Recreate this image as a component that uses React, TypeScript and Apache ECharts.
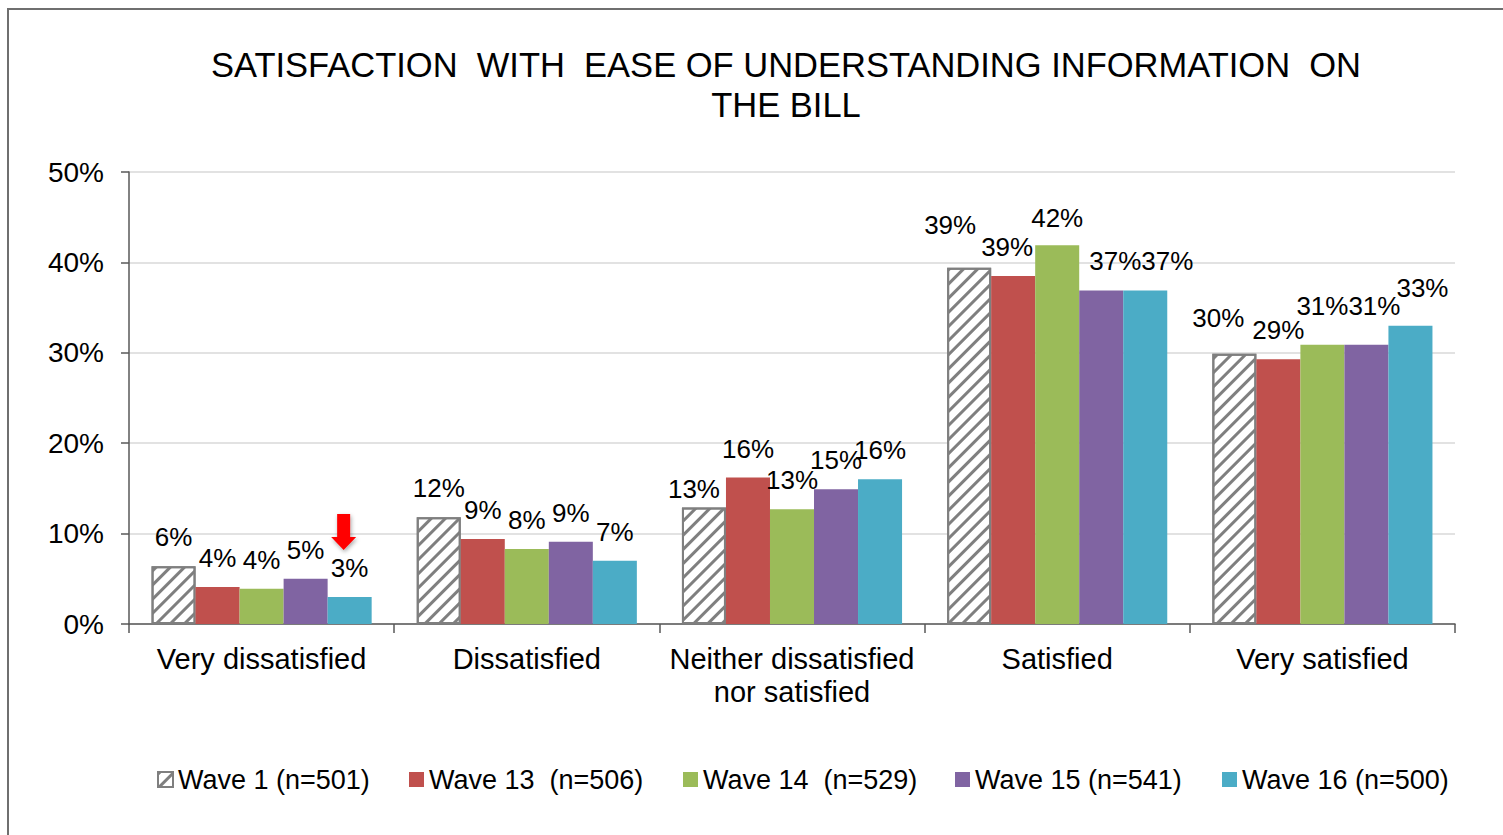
import React, { useEffect, useRef } from "react";
import * as echarts from "echarts";

const categories = [
  "Very dissatisfied",
  "Dissatisfied",
  "Neither dissatisfied\nnor satisfied",
  "Satisfied",
  "Very satisfied",
];
const seriesNames = [
  "Wave 1 (n=501)",
  "Wave 13  (n=506)",
  "Wave 14  (n=529)",
  "Wave 15 (n=541)",
  "Wave 16 (n=500)",
];
const wave1 = [6.4, 11.8, 12.9, 39.4, 29.9];
const wave13 = [4.1, 9.4, 16.2, 38.5, 29.3];
const wave14 = [3.9, 8.3, 12.7, 41.9, 30.9];
const wave15 = [5.0, 9.1, 14.9, 36.9, 30.9];
const wave16 = [3.0, 7.0, 16.0, 36.9, 33.0];
const yTicks = { min: 0, max: 50, interval: 10 };

// label nudges (dx, dy in px), mimicking the reference's label placement
const labelShift: number[][][] = [
  [[0, 0], [0, 0], [-10, 11], [-19, -14], [-16, -7]],
  [[0, 0], [0, 0], [0, 0], [-6, 0], [0, 0]],
  [[0, 0], [0, 0], [0, 0], [0, 2], [0, -10]],
  [[0, 0], [0, 0], [0, 0], [14, 0], [8, -10]],
  [[0, 0], [0, 0], [0, 0], [22, 0], [12, -9]],
];

const colors = ["#ffffff", "#C0504D", "#9BBB59", "#8064A2", "#4BACC6"];
const legendLefts = [157, 409, 683, 955, 1222];
const FONT = "'Liberation Sans', Arial, sans-serif";

const hatch = {
  symbol: "rect",
  symbolSize: 1,
  color: "#7f7f7f",
  dashArrayX: [1, 0],
  dashArrayY: [3, 7],
  rotation: -Math.PI / 4,
};

export default function App() {
  const ref = useRef<HTMLDivElement>(null);
  useEffect(() => {
    if (!ref.current) return;
    const chart = echarts.init(ref.current, undefined, { renderer: "svg" });
    const allData = [wave1, wave13, wave14, wave15, wave16];
    const labelCfg = {
      show: true,
      position: "top" as const,
      distance: 16,
      color: "#000",
      fontSize: 26,
      fontFamily: FONT,
      formatter: (p: any) => Math.round(p.value) + "%",
    };
    const series: any[] = allData.map((d, i) => {
      const s: any = {
        name: seriesNames[i],
        type: "bar",
        data: d.map((v, j) => ({ value: v, label: { offset: labelShift[i][j] } })),
        barGap: "0%",
        barCategoryGap: "17%",
        label: labelCfg,
        itemStyle: { color: colors[i] },
      };
      if (i === 0) {
        s.itemStyle = {
          color: "#ffffff",
          borderColor: "#7f7f7f",
          borderWidth: 2,
          decal: hatch,
        };
      }
      if (i === 4) {
        s.markPoint = {
          silent: true,
          data: [
            {
              coord: [0, wave16[0]],
              symbol: "path://M6,0 H19 V23 H25 L12.5,36 L0,23 H6 Z",
              symbolSize: [25, 36],
              symbolOffset: [-6, -65],
              itemStyle: {
                color: "#ff0000",
                shadowBlur: 4,
                shadowColor: "rgba(0,0,0,0.35)",
                shadowOffsetX: 1,
                shadowOffsetY: 2,
              },
              label: { show: false },
            },
          ],
        };
      }
      return s;
    });

    chart.setOption({
      animation: false,
      backgroundColor: "#ffffff",
      title: {
        text: "SATISFACTION  WITH  EASE OF UNDERSTANDING INFORMATION  ON\nTHE BILL",
        left: 781,
        top: 40,
        textAlign: "center",
        textStyle: {
          fontFamily: FONT,
          fontSize: 34.5,
          fontWeight: "normal",
          color: "#000",
          lineHeight: 40,
        },
      },
      graphic: [
        {
          type: "rect",
          shape: { x: 8, y: 9, width: 1600, height: 900 },
          style: { fill: "none", stroke: "#6f6f6f", lineWidth: 2 },
          silent: true,
          z: -1,
        },
      ],
      legend: seriesNames.map((n, i) => ({
        data: [
          {
            name: n,
            itemStyle:
              i === 0
                ? { color: "#ffffff", borderColor: "#7f7f7f", borderWidth: 2, decal: hatch }
                : { color: colors[i] },
          },
        ],
        left: legendLefts[i],
        top: 766,
        padding: 0,
        itemWidth: 15,
        itemHeight: 15,
        itemGap: 0,
        icon: "rect",
        textStyle: { fontFamily: FONT, fontSize: 27, color: "#000" },
        selectedMode: false,
      })),
      grid: { left: 129, right: 48, top: 172, bottom: 211, containLabel: false },
      xAxis: {
        type: "category",
        data: categories,
        axisLine: { lineStyle: { color: "#595959", width: 1.5 } },
        axisTick: { show: true, length: 9, lineStyle: { color: "#595959", width: 1.5 } },
        axisLabel: {
          interval: 0,
          fontFamily: FONT,
          fontSize: 29,
          color: "#000",
          lineHeight: 33,
          margin: 18,
        },
      },
      yAxis: {
        type: "value",
        min: yTicks.min,
        max: yTicks.max,
        interval: yTicks.interval,
        axisLine: { show: true, lineStyle: { color: "#595959", width: 1.5 } },
        axisTick: { show: true, length: 8, lineStyle: { color: "#595959", width: 1.5 } },
        splitLine: { lineStyle: { color: "#d9d9d9", width: 1.5 } },
        axisLabel: {
          formatter: "{value}%",
          fontFamily: FONT,
          fontSize: 28,
          color: "#000",
          margin: 25,
        },
      },
      series,
    });
    return () => chart.dispose();
  }, []);
  return (
    <div
      ref={ref}
      style={{ position: "absolute", left: 0, top: 0, width: 1503, height: 835 }}
    />
  );
}
